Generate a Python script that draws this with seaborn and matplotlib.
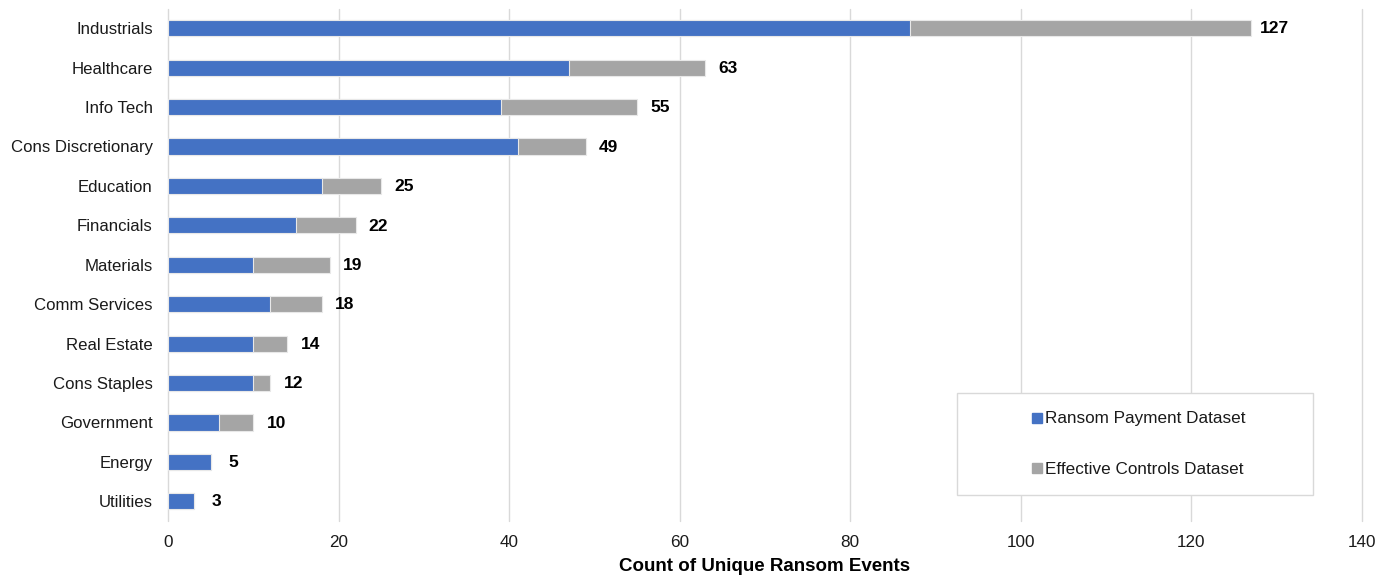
import matplotlib
matplotlib.use("Agg")
import matplotlib.pyplot as plt
import seaborn as sns
import pandas as pd
from matplotlib.patches import Rectangle
from matplotlib.lines import Line2D

categories = ["Industrials", "Healthcare", "Info Tech", "Cons Discretionary", "Education",
              "Financials", "Materials", "Comm Services", "Real Estate", "Cons Staples",
              "Government", "Energy", "Utilities"]
ransom_payment = [87, 47, 39, 41, 18, 15, 10, 12, 10, 10, 6, 5, 3]
totals = [127, 63, 55, 49, 25, 22, 19, 18, 14, 12, 10, 5, 3]
x_ticks = [0, 20, 40, 60, 80, 100, 120, 140]

sns.set_theme(style="white")
plt.rcParams['font.family'] = ['Liberation Sans', 'DejaVu Sans']

df = pd.DataFrame({"cat": categories, "rp": ransom_payment, "total": totals})

W, H = 1391, 579
fig = plt.figure(figsize=(W / 100, H / 100), dpi=100)
ax = fig.add_axes([168 / W, 1 - 521 / H, (1362 - 168) / W, (521 - 8.5) / H])

blue = "#4472C4"
gray = "#A5A5A5"

sns.barplot(data=df, y="cat", x="total", color=gray, orient="h", width=0.41,
            ax=ax, edgecolor="#E8E8E8", linewidth=0.8, saturation=1)
sns.barplot(data=df, y="cat", x="rp", color=blue, orient="h", width=0.41,
            ax=ax, edgecolor="#E8E8E8", linewidth=0.8, saturation=1)

for i, t in enumerate(totals):
    ax.annotate(str(t), xy=(t, i), xytext=(16.5, -0.5), textcoords="offset points",
                va="center", ha="center", fontsize=12.5, fontweight="bold", color="black")

ax.set_xlim(0, 140)
ax.set_ylim(12.5, -0.5)
ax.set_xticks(x_ticks)
ax.set_xticklabels([str(v) for v in x_ticks], fontsize=12.3, color="#1a1a1a")
ax.tick_params(axis="y", labelsize=12.1, labelcolor="#1a1a1a", length=0, pad=11)
ax.tick_params(axis="x", length=0, pad=10)
ax.set_ylabel("")
ax.set_xlabel("Count of Unique Ransom Events", fontsize=13.5, fontweight="bold",
              labelpad=6, color="black")
ax.grid(axis="x", color="#D9D9D9", linewidth=1)
for gl in ax.get_xgridlines():
    gl.set_clip_on(False)
ax.set_axisbelow(True)
for s in ax.spines.values():
    s.set_visible(False)

# legend frame
fig.patches.append(Rectangle((957 / W, 1 - 495 / H), (1313 - 957) / W, (495 - 393) / H,
                             transform=fig.transFigure, facecolor="white",
                             edgecolor="#D9D9D9", linewidth=1, zorder=5))
handles = [
    Line2D([0], [0], marker="s", linestyle="none", markerfacecolor=blue,
           markeredgecolor=blue, markersize=7.5),
    Line2D([0], [0], marker="s", linestyle="none", markerfacecolor=gray,
           markeredgecolor=gray, markersize=7.5),
]
leg = fig.legend(handles, ["Ransom Payment Dataset", "Effective Controls Dataset"],
                 loc="center", bbox_to_anchor=(1139 / W, 1 - 444 / H),
                 fontsize=12.3, frameon=False, labelspacing=2.05,
                 handlelength=0.6, handletextpad=0.15, borderpad=0)
leg.set_zorder(6)
for t in leg.get_texts():
    t.set_color("#1a1a1a")

fig.savefig("out.png", dpi=100, facecolor="white")
